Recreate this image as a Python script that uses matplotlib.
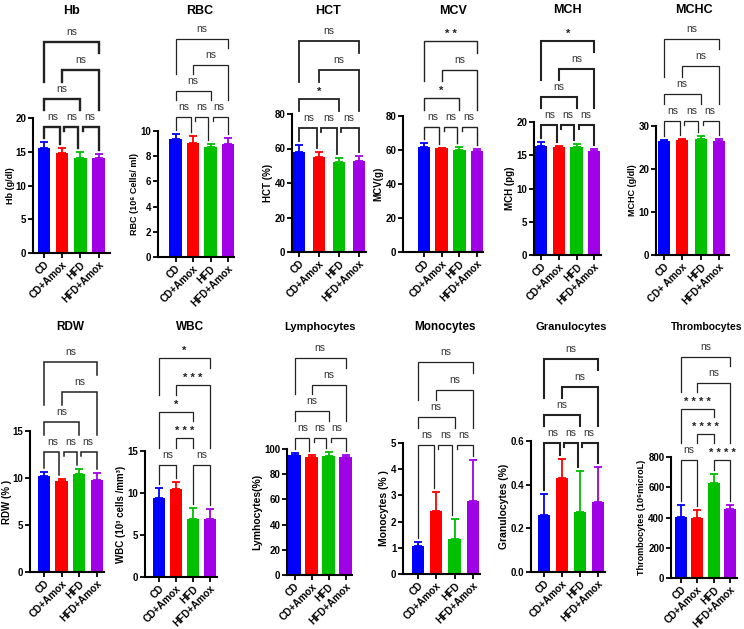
import matplotlib
matplotlib.use("Agg")
import matplotlib.pyplot as plt
from matplotlib.transforms import blended_transform_factory

plt.rcParams['font.family'] = ['Liberation Sans', 'DejaVu Sans']

W, H = 744, 629

# groups and colours
groups = ["CD", "CD+Amox", "HFD", "HFD+Amox"]
groups_mchc = ["CD", "CD+ Amox", "HFD", "HFD+Amox"]
colors = ["#0000ff", "#ff0000", "#00c000", "#a000e6"]

# mean values and upper error bars
hb_mean = [15.5, 14.8, 14.1, 14.1]
hb_err = [1.0, 0.7, 0.8, 0.6]
rbc_mean = [9.36, 9.07, 8.75, 8.97]
rbc_err = [0.40, 0.53, 0.25, 0.47]
hct_mean = [58.0, 55.0, 52.4, 52.8]
hct_err = [4.0, 3.0, 2.1, 3.0]
mcv_mean = [62.0, 60.9, 60.1, 59.5]
mcv_err = [2.0, 0.5, 1.5, 1.2]
mch_mean = [16.35, 16.2, 16.2, 15.7]
mch_err = [0.65, 0.25, 0.45, 0.25]
mchc_mean = [26.4, 26.8, 27.05, 26.6]
mchc_err = [0.4, 0.2, 0.7, 0.3]
rdw_mean = [10.2, 9.7, 10.38, 9.74]
rdw_err = [0.4, 0.18, 0.56, 0.81]
wbc_mean = [9.43, 10.47, 6.96, 6.88]
wbc_err = [1.12, 0.87, 1.28, 1.16]
lym_mean = [95.2, 93.4, 94.7, 93.4]
lym_err = [1.6, 1.6, 2.7, 2.1]
mono_mean = [1.08, 2.41, 1.34, 2.80]
mono_err = [0.16, 0.73, 0.75, 1.57]
gran_mean = [0.263, 0.431, 0.274, 0.321]
gran_err = [0.092, 0.088, 0.189, 0.162]
thr_mean = [405, 400, 630, 458]
thr_err = [75, 50, 55, 22]

# significance labels, pairs in order 0-1, 1-2, 2-3, 0-2, 1-3, 0-3
pairs = [(0, 1), (1, 2), (2, 3), (0, 2), (1, 3), (0, 3)]
hb_sig = ["ns", "ns", "ns", "ns", "ns", "ns"]
rbc_sig = ["ns", "ns", "ns", "ns", "ns", "ns"]
hct_sig = ["ns", "ns", "ns", "*", "ns", "ns"]
mcv_sig = ["ns", "ns", "ns", "*", "ns", "**"]
mch_sig = ["ns", "ns", "ns", "ns", "ns", "*"]
mchc_sig = ["ns", "ns", "ns", "ns", "ns", "ns"]
rdw_sig = ["ns", "ns", "ns", "ns", "ns", "ns"]
wbc_sig = ["ns", "***", "ns", "*", "***", "*"]
lym_sig = ["ns", "ns", "ns", "ns", "ns", "ns"]
mono_sig = ["ns", "ns", "ns", "ns", "ns", "ns"]
gran_sig = ["ns", "ns", "ns", "ns", "ns", "ns"]
thr_sig = ["ns", "****", "****", "****", "ns", "ns"]

std_lv = [0, 0, 0, 1, 2, 3]
raised_lv = [0, 1, 0, 2, 3, 4]

# title, ylabel, xlabels, mean, err, sig, yticks, tick format
panels = [
    ("Hb", "Hb (g/dl)", groups, hb_mean, hb_err, hb_sig, [0, 5, 10, 15, 20], "{:.0f}"),
    ("RBC", "RBC (10\u2076 Cells/ ml)", groups, rbc_mean, rbc_err, rbc_sig, [0, 2, 4, 6, 8, 10], "{:.0f}"),
    ("HCT", "HCT (%)", groups, hct_mean, hct_err, hct_sig, [0, 20, 40, 60, 80], "{:.0f}"),
    ("MCV", "MCV(g)", groups, mcv_mean, mcv_err, mcv_sig, [0, 20, 40, 60, 80], "{:.0f}"),
    ("MCH", "MCH (pg)", groups, mch_mean, mch_err, mch_sig, [0, 5, 10, 15, 20], "{:.0f}"),
    ("MCHC", "MCHC (g/dl)", groups_mchc, mchc_mean, mchc_err, mchc_sig, [0, 10, 20, 30], "{:.0f}"),
    ("RDW", "RDW (% )", groups, rdw_mean, rdw_err, rdw_sig, [0, 5, 10, 15], "{:.0f}"),
    ("WBC", "WBC (10\u00b3 cells /mm\u00b3)", groups, wbc_mean, wbc_err, wbc_sig, [0, 5, 10, 15], "{:.0f}"),
    ("Lymphocytes", "Lymhocytes(%)", groups, lym_mean, lym_err, lym_sig, [0, 20, 40, 60, 80, 100], "{:.0f}"),
    ("Monocytes", "Monocytes (% )", groups, mono_mean, mono_err, mono_sig, [0, 1, 2, 3, 4, 5], "{:.0f}"),
    ("Granulocytes", "Granulocytes (%)", groups, gran_mean, gran_err, gran_sig, [0.0, 0.2, 0.4, 0.6], "{:.1f}"),
    ("Thrombocytes", "Thrombocytes (10\u2076microL)", groups, thr_mean, thr_err, thr_sig, [0, 200, 400, 600, 800], "{:.0f}"),
]

# pixel layout: axis left/right/top/bottom, first bar centre, bar spacing,
# bracket base line + step, title pos/size, ylabel size/pad, line width
layout = [
    dict(L=33, R=110, T=118, B=253, c0=44, s=18.2, base=127, step=28.3, tx=72, ty=11, ts=9, ys=6.5, yp=0.5, lv=std_lv, lw=1.7),
    dict(L=158, R=234, T=131, B=257, c0=175.5, s=17.5, base=117, step=26.0, tx=200, ty=11, ts=9, ys=6.5, yp=1.5, lv=std_lv, lw=0.9),
    dict(L=292, R=366, T=114, B=252, c0=299.3, s=19.8, base=128, step=29.0, tx=328, ty=11, ts=9, ys=7, yp=1.5, lv=std_lv, lw=1.3),
    dict(L=403, R=483, T=116, B=252, c0=423.8, s=17.8, base=127, step=28.7, tx=453, ty=11, ts=9, ys=7, yp=1.5, lv=std_lv, lw=1.0),
    dict(L=534, R=601, T=122, B=255, c0=541.2, s=17.7, base=125, step=28.0, tx=567, ty=10, ts=9, ys=7, yp=1.5, lv=std_lv, lw=1.5),
    dict(L=656, R=729, T=126, B=255, c0=663.7, s=18.5, base=121, step=27.3, tx=694, ty=10, ts=9, ys=6.5, yp=1.5, lv=std_lv, lw=0.9),
    dict(L=30, R=104, T=431, B=572, c0=43.7, s=17.8, base=452, step=30.0, tx=70, ty=327, ts=8.5, ys=7, yp=0.5, lv=std_lv, lw=1.1),
    dict(L=145, R=217, T=451, B=577, c0=158.8, s=17.1, base=465, step=26.7, tx=190, ty=327, ts=8.5, ys=7, yp=1.5, lv=raised_lv, lw=0.9),
    dict(L=287, R=352, T=449, B=575, c0=294.5, s=17.0, base=438, step=26.7, tx=320, ty=327, ts=8, ys=7.5, yp=1.5, lv=std_lv, lw=0.9),
    dict(L=403, R=480, T=443, B=574, c0=417.8, s=18.4, base=445, step=27.7, tx=445, ty=327, ts=8.5, ys=7.5, yp=1.5, lv=std_lv, lw=0.9),
    dict(L=531, R=605, T=441, B=572, c0=543.7, s=18.05, base=443, step=28.0, tx=571, ty=327, ts=8, ys=7.5, yp=1.5, lv=std_lv, lw=1.5),
    dict(L=671, R=737, T=457, B=578, c0=680.8, s=16.5, base=460, step=25.7, tx=707, ty=327, ts=7.5, ys=6.5, yp=1.5, lv=raised_lv, lw=0.9),
]

fig = plt.figure(figsize=(W / 100, H / 100), dpi=100)


def fy(px):
    return 1 - px / H


for (title, ylab, xl, mean, err, sig, yt, fmt), lay in zip(panels, layout):
    ax = fig.add_axes([lay["L"] / W, 1 - lay["B"] / H,
                       (lay["R"] - lay["L"]) / W, (lay["B"] - lay["T"]) / H])
    x = list(range(4))
    ax.bar(x, mean, width=12.3 / lay["s"], color=colors, zorder=2)
    for i in x:
        ax.errorbar(i, mean[i], yerr=[[0], [err[i]]], color=colors[i],
                    capsize=2.6, elinewidth=1.3, capthick=1.3, zorder=3)
    ymax = yt[-1]
    ax.set_ylim(0, ymax)
    ax.set_xlim((lay["L"] - lay["c0"]) / lay["s"], (lay["R"] - lay["c0"]) / lay["s"])
    ax.set_yticks(yt)
    ax.set_yticklabels([fmt.format(v) for v in yt], fontweight="bold", fontsize=7)
    ax.set_xticks(x)
    ax.set_xticklabels(xl, rotation=45, ha="right", rotation_mode="anchor",
                       fontweight="bold", fontsize=7.2)
    for side in ("top", "right"):
        ax.spines[side].set_visible(False)
    for side in ("left", "bottom"):
        ax.spines[side].set_linewidth(1.5)
    ax.tick_params(width=1.3, length=3.5, pad=1.2)
    ax.set_ylabel(ylab, fontweight="bold", fontsize=lay["ys"], labelpad=lay["yp"])

    fig.text(lay["tx"] / W, fy(lay["ty"]), title, ha="center", va="center",
             fontweight="bold", fontsize=lay["ts"])

    # significance brackets, drawn from the lowest level upwards
    tr = blended_transform_factory(ax.transData, fig.transFigure)
    lv = lay["lv"]
    drawn = []
    for k in sorted(range(6), key=lambda m: lv[m]):
        i, j = pairs[k]
        y = lay["base"] - lay["step"] * lv[k]
        same = [pairs[m] for m in range(6) if lv[m] == lv[k] and m != k]
        xa = i + (0.12 if any(p[1] == i for p in same) else 0)
        xb = j - (0.12 if any(p[0] == j for p in same) else 0)
        ends = []
        for xx in (i, j):
            below = [d[2] for d in drawn if d[0] <= xx <= d[1]]
            if below:
                bottom = min(below) - 17
            else:
                top = mean[xx] + err[xx]
                bottom = lay["B"] - top / ymax * (lay["B"] - lay["T"]) - 4
            ends.append(max(bottom, y + 4))
        ax.plot([xa, xa, xb, xb], [fy(ends[0]), fy(y), fy(y), fy(ends[1])],
                transform=tr, clip_on=False, color="#222222", lw=lay["lw"],
                solid_joinstyle="miter", zorder=4)
        if sig[k] == "ns":
            ax.text((i + j) / 2, fy(y - 5), "ns", transform=tr, ha="center",
                    va="bottom", fontsize=7.5, color="#333333")
        else:
            ax.text((i + j) / 2, fy(y - 2), " ".join(sig[k]), transform=tr,
                    ha="center", va="bottom", fontsize=8, color="#222222",
                    fontweight="bold")
        drawn.append((i, j, y))

fig.savefig("out.png", dpi=100)
